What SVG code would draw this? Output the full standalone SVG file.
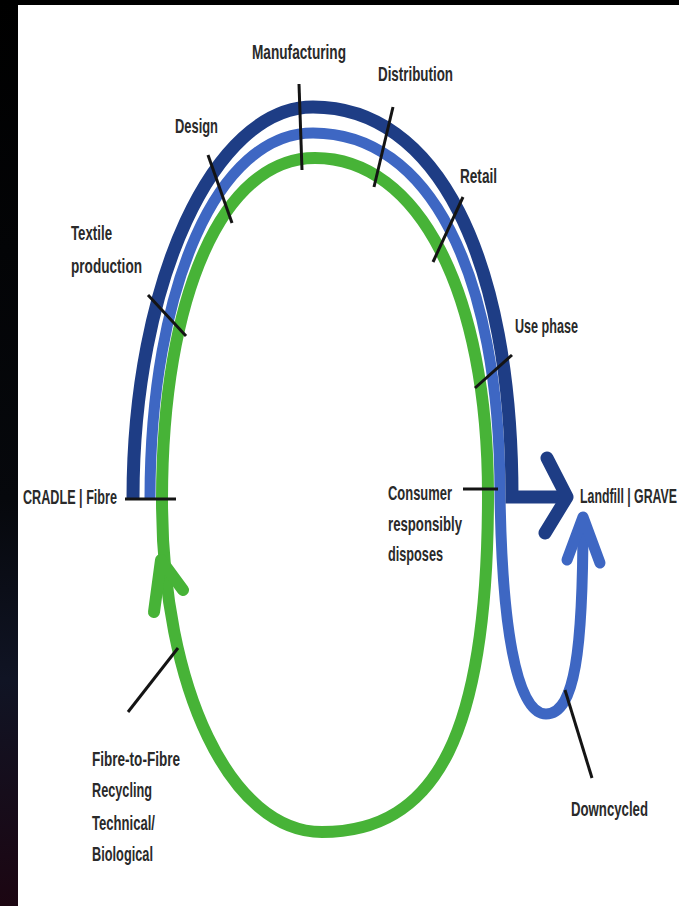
<svg xmlns="http://www.w3.org/2000/svg" width="679" height="906" viewBox="0 0 679 906">
  <defs>
    <linearGradient id="bg" x1="0" y1="0" x2="0" y2="1">
      <stop offset="0" stop-color="#000000"/>
      <stop offset="0.55" stop-color="#06080c"/>
      <stop offset="0.75" stop-color="#101424"/>
      <stop offset="1" stop-color="#1c0612"/>
    </linearGradient>
    <style>
      .lbl { font-family: "Liberation Sans", Arial, sans-serif; font-weight: bold; font-size: 21px; fill: #2a2a2a; }
      .lead { stroke: #141414; stroke-width: 3; fill: none; stroke-linecap: butt; }
      .dark { stroke: #1e3d85; stroke-width: 13; fill: none; }
      .light { stroke: #3e67c3; stroke-width: 11; fill: none; }
      .green { stroke: #47b337; stroke-width: 12; fill: none; }
      .head { stroke-linecap: round; stroke-linejoin: round; }
    </style>
  </defs>

  <rect x="0" y="0" width="679" height="906" fill="url(#bg)"/>
  <rect x="18" y="5" width="661" height="901" fill="#ffffff"/>

  <g id="connectors">
    <path class="green" d="M162,500 C162,295 223,158 315,158 C419,158 488,293 488,495 C488,731 438,832 322,832 C231,832 162,689 162,500 Z"/>
    <path class="green head" d="M154,612 L161,560 L183,590"/>
    <path class="light" d="M150,498 C150,286 218,133 313,133 C429,133 500,271 500,495 C502,620 515,714 546,714 C575,714 583,650 583,520"/>
    <path class="light head" d="M567,560 L583,517 L600,563"/>
    <path class="dark" stroke-linejoin="miter" d="M133,498 C133,282 214,107 313,107 C436,107 512,255 512,497 L565,497"/>
    <path class="dark head" d="M547,458 L567,497 L545,533"/>
  </g>

  <g id="node-cradle">
    <line class="lead" x1="125" y1="499" x2="176" y2="499"/>
    <text class="lbl" x="23" y="504" textLength="94" lengthAdjust="spacingAndGlyphs">CRADLE | Fibre</text>
  </g>
  <g id="node-textile">
    <line class="lead" x1="148" y1="295" x2="186" y2="336"/>
    <text class="lbl" x="71" y="240" textLength="41" lengthAdjust="spacingAndGlyphs">Textile</text>
    <text class="lbl" x="71" y="273" textLength="71" lengthAdjust="spacingAndGlyphs">production</text>
  </g>
  <g id="node-design">
    <line class="lead" x1="208" y1="155" x2="232" y2="223"/>
    <text class="lbl" x="175" y="133" textLength="43" lengthAdjust="spacingAndGlyphs">Design</text>
  </g>
  <g id="node-manufacturing">
    <line class="lead" x1="299" y1="84" x2="302" y2="170"/>
    <text class="lbl" x="252" y="59" textLength="94" lengthAdjust="spacingAndGlyphs">Manufacturing</text>
  </g>
  <g id="node-distribution">
    <line class="lead" x1="393" y1="107" x2="374" y2="187"/>
    <text class="lbl" x="378" y="81" textLength="75" lengthAdjust="spacingAndGlyphs">Distribution</text>
  </g>
  <g id="node-retail">
    <line class="lead" x1="463" y1="197" x2="433" y2="262"/>
    <text class="lbl" x="460" y="183" textLength="37" lengthAdjust="spacingAndGlyphs">Retail</text>
  </g>
  <g id="node-use">
    <line class="lead" x1="512" y1="355" x2="475" y2="388"/>
    <text class="lbl" x="515" y="333" textLength="63" lengthAdjust="spacingAndGlyphs">Use phase</text>
  </g>
  <g id="node-consumer">
    <line class="lead" x1="463" y1="489" x2="498" y2="489"/>
    <text class="lbl" x="388" y="500" textLength="64" lengthAdjust="spacingAndGlyphs">Consumer</text>
    <text class="lbl" x="388" y="531" textLength="74" lengthAdjust="spacingAndGlyphs">responsibly</text>
    <text class="lbl" x="388" y="561" textLength="55" lengthAdjust="spacingAndGlyphs">disposes</text>
  </g>
  <g id="node-landfill">
    <text class="lbl" x="580" y="503" textLength="97" lengthAdjust="spacingAndGlyphs">Landfill | GRAVE</text>
  </g>
  <g id="node-recycling">
    <line class="lead" x1="178" y1="648" x2="128" y2="712"/>
    <text class="lbl" x="92" y="766" textLength="88" lengthAdjust="spacingAndGlyphs">Fibre-to-Fibre</text>
    <text class="lbl" x="92" y="797" textLength="60" lengthAdjust="spacingAndGlyphs">Recycling</text>
    <text class="lbl" x="92" y="830" textLength="63" lengthAdjust="spacingAndGlyphs">Technical/</text>
    <text class="lbl" x="92" y="861" textLength="61" lengthAdjust="spacingAndGlyphs">Biological</text>
  </g>
  <g id="node-downcycled">
    <line class="lead" x1="565" y1="690" x2="592" y2="778"/>
    <text class="lbl" x="571" y="816" textLength="77" lengthAdjust="spacingAndGlyphs">Downcycled</text>
  </g>
</svg>
